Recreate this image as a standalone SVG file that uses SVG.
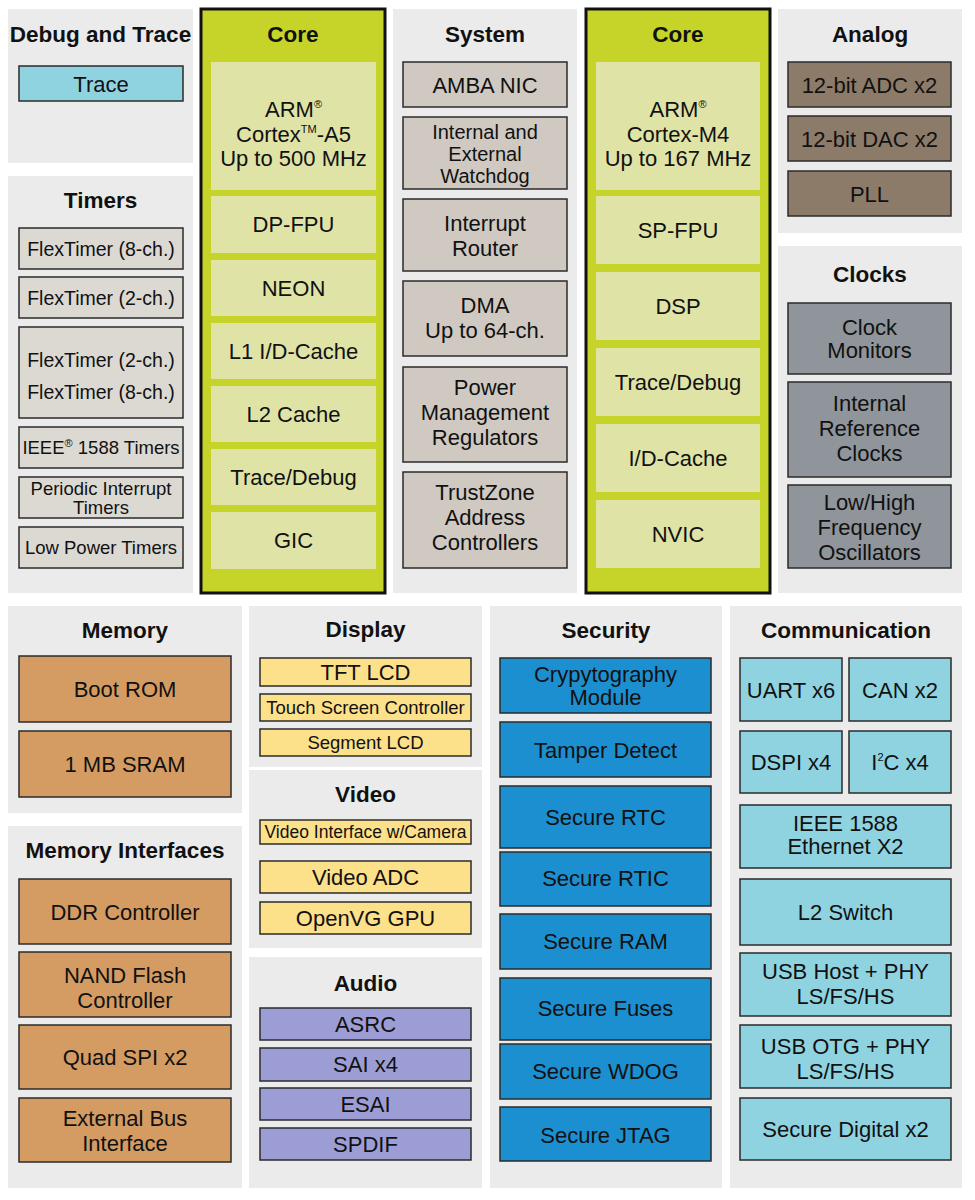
<svg xmlns="http://www.w3.org/2000/svg" width="975" height="1200" viewBox="0 0 975 1200">
<style>
.panel{fill:#ebebeb}
.core{fill:#c6d42a;stroke:#111;stroke-width:3}
.ci{fill:#dfe3a6}
.box{stroke:#2b2b2b;stroke-width:1.5}
.cyan{fill:#8fd3e0}
.tim{fill:#dcd9d3}
.sys{fill:#cfc9c2}
.ana{fill:#8c7b68}
.clk{fill:#8f959b}
.mem{fill:#d49c63}
.yel{fill:#fde08a}
.aud{fill:#9d9dd6}
.sec{fill:#1c8fd0}
text{font-family:"Liberation Sans",Arial,Helvetica,sans-serif;text-anchor:middle;fill:#111}
.h{font-weight:bold;font-size:22.5px}
.t{font-size:22px}
.m{font-size:20px}
.s{font-size:19.5px}
.xs{font-size:18.5px}
.xxs{font-size:17.5px}
.sup{font-size:11px}
</style>
<rect width="975" height="1200" fill="#ffffff"/>

<g id="debug-trace">
<rect class="panel" x="8" y="9" width="185" height="154"/>
<text class="h" x="100.5" y="42">Debug and Trace</text>
<rect class="box cyan" x="19" y="66" width="164" height="35"/>
<text class="t" x="101" y="91.5">Trace</text>
</g>

<g id="timers">
<rect class="panel" x="8" y="176" width="185" height="417"/>
<text class="h" x="100.5" y="208">Timers</text>
<rect class="box tim" x="19" y="228" width="164" height="41"/>
<text class="s" x="101" y="255.5">FlexTimer (8-ch.)</text>
<rect class="box tim" x="19" y="277" width="164" height="41"/>
<text class="s" x="101" y="304.5">FlexTimer (2-ch.)</text>
<rect class="box tim" x="19" y="327" width="164" height="91"/>
<text class="s" x="101" y="367">FlexTimer (2-ch.)</text>
<text class="s" x="101" y="399">FlexTimer (8-ch.)</text>
<rect class="box tim" x="19" y="427" width="164" height="41"/>
<text class="xs" x="101" y="454">IEEE<tspan class="sup" dy="-7">®</tspan><tspan dy="7"> 1588 Timers</tspan></text>
<rect class="box tim" x="19" y="477" width="164" height="41"/>
<text class="xs" x="101" y="495">Periodic Interrupt</text>
<text class="xs" x="101" y="514">Timers</text>
<rect class="box tim" x="19" y="527" width="164" height="41"/>
<text class="xs" x="101" y="554">Low Power Timers</text>
</g>

<g id="core-a5">
<rect class="core" x="201" y="9" width="184" height="584"/>
<text class="h" x="293" y="42">Core</text>
<rect class="ci" x="211" y="62" width="165" height="128"/>
<text class="t" x="293.5" y="117">ARM<tspan class="sup" dy="-9">®</tspan></text>
<text class="t" x="293.5" y="141.5">Cortex<tspan class="sup" dy="-9">TM</tspan><tspan dy="9">-A5</tspan></text>
<text class="t" x="293.5" y="166">Up to 500 MHz</text>
<rect class="ci" x="211" y="196" width="165" height="57"/>
<text class="t" x="293.5" y="232">DP-FPU</text>
<rect class="ci" x="211" y="260" width="165" height="56"/>
<text class="t" x="293.5" y="296">NEON</text>
<rect class="ci" x="211" y="323" width="165" height="56"/>
<text class="t" x="293.5" y="359">L1 I/D-Cache</text>
<rect class="ci" x="211" y="386" width="165" height="56"/>
<text class="t" x="293.5" y="422">L2 Cache</text>
<rect class="ci" x="211" y="449" width="165" height="56"/>
<text class="t" x="293.5" y="485">Trace/Debug</text>
<rect class="ci" x="211" y="512" width="165" height="57"/>
<text class="t" x="293.5" y="548">GIC</text>
</g>

<g id="system">
<rect class="panel" x="393" y="9" width="184" height="584"/>
<text class="h" x="485" y="42">System</text>
<rect class="box sys" x="403" y="62" width="164" height="45"/>
<text class="t" x="485" y="92.5">AMBA NIC</text>
<rect class="box sys" x="403" y="117" width="164" height="72"/>
<text class="m" x="485" y="139">Internal and</text>
<text class="m" x="485" y="161">External</text>
<text class="m" x="485" y="183">Watchdog</text>
<rect class="box sys" x="403" y="199" width="164" height="72"/>
<text class="t" x="485" y="231">Interrupt</text>
<text class="t" x="485" y="256">Router</text>
<rect class="box sys" x="403" y="281" width="164" height="75"/>
<text class="t" x="485" y="313">DMA</text>
<text class="t" x="485" y="338">Up to 64-ch.</text>
<rect class="box sys" x="403" y="367" width="164" height="95"/>
<text class="t" x="485" y="395">Power</text>
<text class="t" x="485" y="420">Management</text>
<text class="t" x="485" y="445">Regulators</text>
<rect class="box sys" x="403" y="472" width="164" height="96"/>
<text class="t" x="485" y="500">TrustZone</text>
<text class="t" x="485" y="525">Address</text>
<text class="t" x="485" y="550">Controllers</text>
</g>

<g id="core-m4">
<rect class="core" x="586" y="9" width="184" height="584"/>
<text class="h" x="678" y="42">Core</text>
<rect class="ci" x="596" y="62" width="164" height="128"/>
<text class="t" x="678" y="117">ARM<tspan class="sup" dy="-9">®</tspan></text>
<text class="t" x="678" y="141.5">Cortex-M4</text>
<text class="t" x="678" y="166">Up to 167 MHz</text>
<rect class="ci" x="596" y="196" width="164" height="68"/>
<text class="t" x="678" y="238">SP-FPU</text>
<rect class="ci" x="596" y="272" width="164" height="68"/>
<text class="t" x="678" y="314">DSP</text>
<rect class="ci" x="596" y="348" width="164" height="68"/>
<text class="t" x="678" y="390">Trace/Debug</text>
<rect class="ci" x="596" y="424" width="164" height="68"/>
<text class="t" x="678" y="466">I/D-Cache</text>
<rect class="ci" x="596" y="500" width="164" height="68"/>
<text class="t" x="678" y="542">NVIC</text>
</g>

<g id="analog">
<rect class="panel" x="778" y="9" width="184" height="224"/>
<text class="h" x="870" y="42">Analog</text>
<rect class="box ana" x="788" y="62" width="163" height="45"/>
<text class="t" x="869.5" y="92.5">12-bit ADC x2</text>
<rect class="box ana" x="788" y="116" width="163" height="45"/>
<text class="t" x="869.5" y="146.5">12-bit DAC x2</text>
<rect class="box ana" x="788" y="171" width="163" height="45"/>
<text class="t" x="869.5" y="201.5">PLL</text>
</g>

<g id="clocks">
<rect class="panel" x="778" y="246" width="184" height="347"/>
<text class="h" x="870" y="282">Clocks</text>
<rect class="box clk" x="788" y="303" width="163" height="71"/>
<text class="t" x="869.5" y="335">Clock</text>
<text class="t" x="869.5" y="358">Monitors</text>
<rect class="box clk" x="788" y="382" width="163" height="95"/>
<text class="t" x="869.5" y="411">Internal</text>
<text class="t" x="869.5" y="436">Reference</text>
<text class="t" x="869.5" y="461">Clocks</text>
<rect class="box clk" x="788" y="485" width="163" height="83"/>
<text class="t" x="869.5" y="510">Low/High</text>
<text class="t" x="869.5" y="535">Frequency</text>
<text class="t" x="869.5" y="560">Oscillators</text>
</g>

<g id="memory">
<rect class="panel" x="8" y="606" width="234" height="207"/>
<text class="h" x="125" y="638">Memory</text>
<rect class="box mem" x="19" y="656" width="212" height="66"/>
<text class="t" x="125" y="697">Boot ROM</text>
<rect class="box mem" x="19" y="731" width="212" height="66"/>
<text class="t" x="125" y="772">1 MB SRAM</text>
</g>

<g id="memory-interfaces">
<rect class="panel" x="8" y="826" width="234" height="362"/>
<text class="h" x="125" y="858">Memory Interfaces</text>
<rect class="box mem" x="19" y="879" width="212" height="65"/>
<text class="t" x="125" y="919.5">DDR Controller</text>
<rect class="box mem" x="19" y="952" width="212" height="65"/>
<text class="t" x="125" y="983">NAND Flash</text>
<text class="t" x="125" y="1008">Controller</text>
<rect class="box mem" x="19" y="1025" width="212" height="64"/>
<text class="t" x="125" y="1065">Quad SPI x2</text>
<rect class="box mem" x="19" y="1098" width="212" height="64"/>
<text class="t" x="125" y="1126">External Bus</text>
<text class="t" x="125" y="1151">Interface</text>
</g>

<g id="display">
<rect class="panel" x="249" y="606" width="233" height="161"/>
<text class="h" x="365.5" y="637">Display</text>
<rect class="box yel" x="260" y="658" width="211" height="28"/>
<text class="t" x="365.5" y="680">TFT LCD</text>
<rect class="box yel" x="260" y="694" width="211" height="27"/>
<text class="xs" x="365.5" y="714">Touch Screen Controller</text>
<rect class="box yel" x="260" y="729" width="211" height="27"/>
<text class="xs" x="365.5" y="749">Segment LCD</text>
</g>

<g id="video">
<rect class="panel" x="249" y="770" width="233" height="178"/>
<text class="h" x="365.5" y="802">Video</text>
<rect class="box yel" x="260" y="820" width="211" height="24"/>
<text class="xxs" x="365.5" y="838">Video Interface w/Camera</text>
<rect class="box yel" x="260" y="861" width="211" height="32"/>
<text class="t" x="365.5" y="885">Video ADC</text>
<rect class="box yel" x="260" y="902" width="211" height="32"/>
<text class="t" x="365.5" y="926">OpenVG GPU</text>
</g>

<g id="audio">
<rect class="panel" x="249" y="957" width="233" height="231"/>
<text class="h" x="365.5" y="991">Audio</text>
<rect class="box aud" x="260" y="1008" width="211" height="32"/>
<text class="t" x="365.5" y="1032">ASRC</text>
<rect class="box aud" x="260" y="1048" width="211" height="33"/>
<text class="t" x="365.5" y="1072">SAI x4</text>
<rect class="box aud" x="260" y="1088" width="211" height="32"/>
<text class="t" x="365.5" y="1112">ESAI</text>
<rect class="box aud" x="260" y="1128" width="211" height="32"/>
<text class="t" x="365.5" y="1152">SPDIF</text>
</g>

<g id="security">
<rect class="panel" x="490" y="606" width="232" height="582"/>
<text class="h" x="606" y="638">Security</text>
<rect class="box sec" x="500" y="658" width="211" height="55"/>
<text class="t" x="605.5" y="682">Crypytography</text>
<text class="t" x="605.5" y="705">Module</text>
<rect class="box sec" x="500" y="722" width="211" height="55"/>
<text class="t" x="605.5" y="757.5">Tamper Detect</text>
<rect class="box sec" x="500" y="786" width="211" height="62"/>
<text class="t" x="605.5" y="825">Secure RTC</text>
<rect class="box sec" x="500" y="852" width="211" height="54"/>
<text class="t" x="605.5" y="886">Secure RTIC</text>
<rect class="box sec" x="500" y="914" width="211" height="55"/>
<text class="t" x="605.5" y="949">Secure RAM</text>
<rect class="box sec" x="500" y="978" width="211" height="62"/>
<text class="t" x="605.5" y="1016">Secure Fuses</text>
<rect class="box sec" x="500" y="1044" width="211" height="55"/>
<text class="t" x="605.5" y="1079">Secure WDOG</text>
<rect class="box sec" x="500" y="1107" width="211" height="54"/>
<text class="t" x="605.5" y="1143">Secure JTAG</text>
</g>

<g id="communication">
<rect class="panel" x="730" y="606" width="232" height="582"/>
<text class="h" x="846" y="638">Communication</text>
<rect class="box cyan" x="740" y="658" width="102" height="63"/>
<text class="t" x="791" y="697.5">UART x6</text>
<rect class="box cyan" x="849" y="658" width="102" height="63"/>
<text class="t" x="900" y="697.5">CAN x2</text>
<rect class="box cyan" x="740" y="731" width="102" height="62"/>
<text class="t" x="791" y="770">DSPI x4</text>
<rect class="box cyan" x="849" y="731" width="102" height="62"/>
<text class="t" x="900" y="770">I<tspan class="sup" dy="-9">2</tspan><tspan dy="9">C x4</tspan></text>
<rect class="box cyan" x="740" y="805" width="211" height="63"/>
<text class="t" x="845.5" y="831">IEEE 1588</text>
<text class="t" x="845.5" y="854">Ethernet X2</text>
<rect class="box cyan" x="740" y="879" width="211" height="66"/>
<text class="t" x="845.5" y="920">L2 Switch</text>
<rect class="box cyan" x="740" y="953" width="211" height="63"/>
<text class="t" x="845.5" y="979">USB Host + PHY</text>
<text class="t" x="845.5" y="1004">LS/FS/HS</text>
<rect class="box cyan" x="740" y="1025" width="211" height="63"/>
<text class="t" x="845.5" y="1054">USB OTG + PHY</text>
<text class="t" x="845.5" y="1079">LS/FS/HS</text>
<rect class="box cyan" x="740" y="1098" width="211" height="62"/>
<text class="t" x="845.5" y="1137">Secure Digital x2</text>
</g>
</svg>
